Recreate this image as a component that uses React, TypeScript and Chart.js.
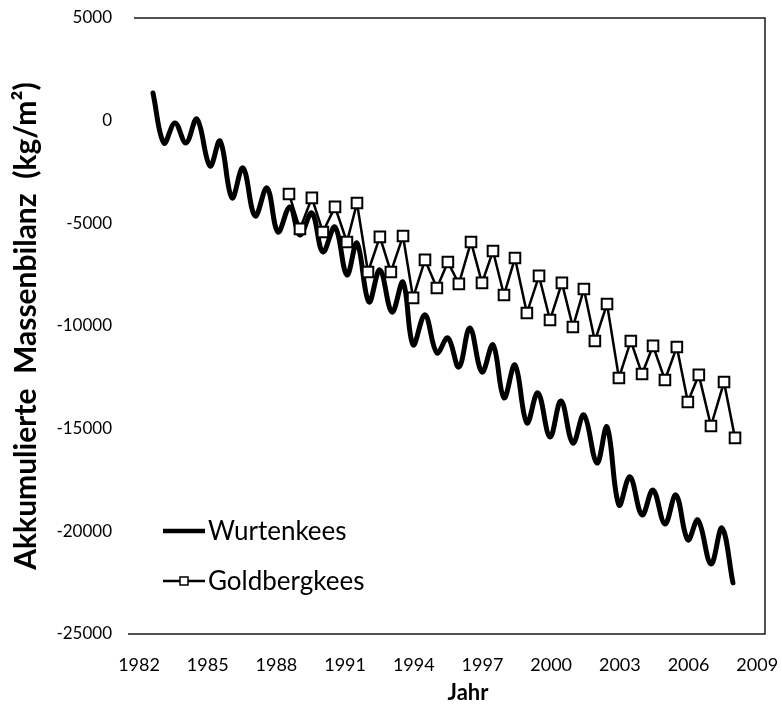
import { useEffect, useRef } from "react";
import { Chart, registerables } from "chart.js";

Chart.register(...registerables);

const xTickValues = [1982, 1985, 1988, 1991, 1994, 1997, 2000, 2003, 2006, 2009];
const yTickValues = [5000, 0, -5000, -10000, -15000, -20000, -25000];

const seriesNames = ["Wurtenkees", "Goldbergkees"];
const xTitle = "Jahr";
const yTitle = "Akkumulierte  Massenbilanz  (kg/m²)";

const wurtenYears = [
  1982.61, 1983.09, 1983.57, 1984.05, 1984.53, 1985.1, 1985.54, 1986.06, 1986.54, 1987.07,
  1987.59, 1988.07, 1988.59, 1989.03, 1989.55, 1990.03, 1990.56, 1991.08, 1991.52, 1992.04,
  1992.52, 1993.05, 1993.53, 1993.97, 1994.49, 1995.01, 1995.49, 1995.97, 1996.45, 1996.98,
  1997.46, 1997.94, 1998.42, 1998.94, 1999.42, 1999.95, 2000.43, 2000.95, 2001.43, 2002.0,
  2002.44, 2002.96, 2003.44, 2003.97, 2004.45, 2004.97, 2005.45, 2005.97, 2006.41, 2006.98,
  2007.46, 2007.94,
];
const wurtenValues = [
  1350, -1090, -110, -1090, 80, -2210, -990, -3760, -2300, -4640,
  -3280, -5420, -4200, -5570, -4500, -6390, -5180, -7510, -5960, -8830,
  -7270, -9320, -7860, -10920, -9460, -11310, -10580, -12000, -10100, -12240,
  -10920, -13500, -11900, -14720, -13260, -15400, -13650, -15700, -14330, -16670,
  -14920, -18720, -17350, -19200, -17990, -19640, -18230, -20420, -19450, -21590,
  -19840, -22510,
];

const goldYears = [
  1988.55, 1989.03, 1989.55, 1990.03, 1990.56, 1991.08, 1991.52, 1992.0, 1992.52, 1993.0,
  1993.53, 1993.97, 1994.49, 1995.01, 1995.49, 1995.97, 1996.5, 1996.98, 1997.46, 1997.94,
  1998.42, 1998.94, 1999.47, 1999.95, 2000.47, 2000.95, 2001.43, 2001.91, 2002.44, 2002.96,
  2003.48, 2003.97, 2004.45, 2004.97, 2005.49, 2005.97, 2006.45, 2006.98, 2007.55, 2008.03,
];
const goldValues = [
  -3570, -5270, -3760, -5420, -4200, -5910, -4010, -7370, -5660, -7370,
  -5620, -8630, -6780, -8150, -6880, -7950, -5910, -7900, -6350, -8490,
  -6690, -9370, -7560, -9710, -7900, -10050, -8200, -10730, -8930, -12530,
  -10730, -12340, -10970, -12630, -11020, -13700, -12380, -14870, -12730, -15450,
];

const FONT = "Lato, 'Open Sans', sans-serif";

const decorPlugin = {
  id: "decor",
  beforeDatasetsDraw(chart: any) {
    const { ctx, chartArea: a } = chart;
    ctx.save();
    ctx.strokeStyle = "#1a1a1a";
    ctx.lineWidth = 1.5;
    ctx.beginPath();
    ctx.moveTo(a.left + 2, a.top);
    ctx.lineTo(a.right, a.top);
    ctx.lineTo(a.right, a.bottom);
    ctx.lineTo(a.left - 4, a.bottom);
    ctx.stroke();
    ctx.restore();
  },
  afterDraw(chart: any) {
    const { ctx, chartArea: a } = chart;
    ctx.save();
    ctx.fillStyle = "#000";
    ctx.textAlign = "center";
    ctx.textBaseline = "middle";
    ctx.font = `bold 22px ${FONT}`;
    ctx.fillText(xTitle, 468, 693);
    ctx.save();
    ctx.translate(26, (a.top + a.bottom) / 2);
    ctx.rotate(-Math.PI / 2);
    ctx.font = `bold 30px ${FONT}`;
    ctx.fillText(yTitle, 0, 0);
    ctx.restore();

    // legend
    ctx.font = `26px ${FONT}`;
    ctx.textAlign = "left";
    ctx.strokeStyle = "#000";
    ctx.lineCap = "butt";
    ctx.lineWidth = 4.5;
    ctx.beginPath();
    ctx.moveTo(163, 531);
    ctx.lineTo(205, 531);
    ctx.stroke();
    ctx.fillText(seriesNames[0], 208, 532);

    ctx.lineWidth = 2.5;
    ctx.beginPath();
    ctx.moveTo(163, 581);
    ctx.lineTo(205, 581);
    ctx.stroke();
    ctx.fillStyle = "#fff";
    ctx.lineWidth = 1.5;
    ctx.fillRect(180, 577, 8, 8);
    ctx.strokeRect(180, 577, 8, 8);
    ctx.fillStyle = "#000";
    ctx.fillText(seriesNames[1], 208, 582);
    ctx.restore();
  },
};

export default function App() {
  const ref = useRef<HTMLCanvasElement | null>(null);

  useEffect(() => {
    document.body.style.margin = "0";
    if (!ref.current) return;
    const chart = new Chart(ref.current, {
      type: "line",
      data: {
        datasets: [
          {
            label: seriesNames[0],
            data: wurtenYears.map((x, i) => ({ x, y: wurtenValues[i] })),
            borderColor: "#000",
            borderWidth: 5,
            pointRadius: 0,
            tension: 0.38,
            borderCapStyle: "round",
            borderJoinStyle: "round",
            order: 2,
          },
          {
            label: seriesNames[1],
            data: goldYears.map((x, i) => ({ x, y: goldValues[i] })),
            borderColor: "#000",
            borderWidth: 2.5,
            pointStyle: "rect",
            pointRadius: 7.5,
            pointBackgroundColor: "#fff",
            pointBorderColor: "#000",
            pointBorderWidth: 2,
            tension: 0,
            order: 1,
          },
        ],
      },
      options: {
        responsive: false,
        animation: false,
        layout: { padding: { top: 18, right: 17, left: 0, bottom: 0 } },
        plugins: { legend: { display: false }, tooltip: { enabled: false } },
        scales: {
          x: {
            type: "linear",
            min: 1981.694,
            max: 2009.34,
            grid: { display: false, drawTicks: false },
            border: { display: false },
            afterBuildTicks: (scale: any) => {
              scale.ticks = xTickValues.map((v) => ({ value: v }));
            },
            afterFit: (scale: any) => {
              scale.height = 86;
              scale.paddingLeft = 0;
              scale.paddingRight = 0;
              scale.paddingTop = 0;
              scale.paddingBottom = 0;
            },
            ticks: {
              padding: 20,
              color: "#000",
              font: { family: FONT, size: 18 },
              callback: (v: any) => String(v),
            },
          },
          y: {
            min: -25000,
            max: 5000,
            grid: { display: false, drawTicks: false },
            border: { display: false },
            afterBuildTicks: (scale: any) => {
              scale.ticks = yTickValues.map((v) => ({ value: v }));
            },
            afterFit: (scale: any) => {
              scale.width = 132;
              scale.paddingLeft = 0;
              scale.paddingRight = 0;
              scale.paddingTop = 0;
              scale.paddingBottom = 0;
            },
            ticks: {
              padding: 20,
              color: "#000",
              font: { family: FONT, size: 17 },
              callback: (v: any) => String(v),
            },
          },
        },
      },
      plugins: [decorPlugin],
    });
    return () => chart.destroy();
  }, []);

  return (
    <div style={{ width: 782, height: 720 }}>
      <canvas ref={ref} width={782} height={720} />
    </div>
  );
}
